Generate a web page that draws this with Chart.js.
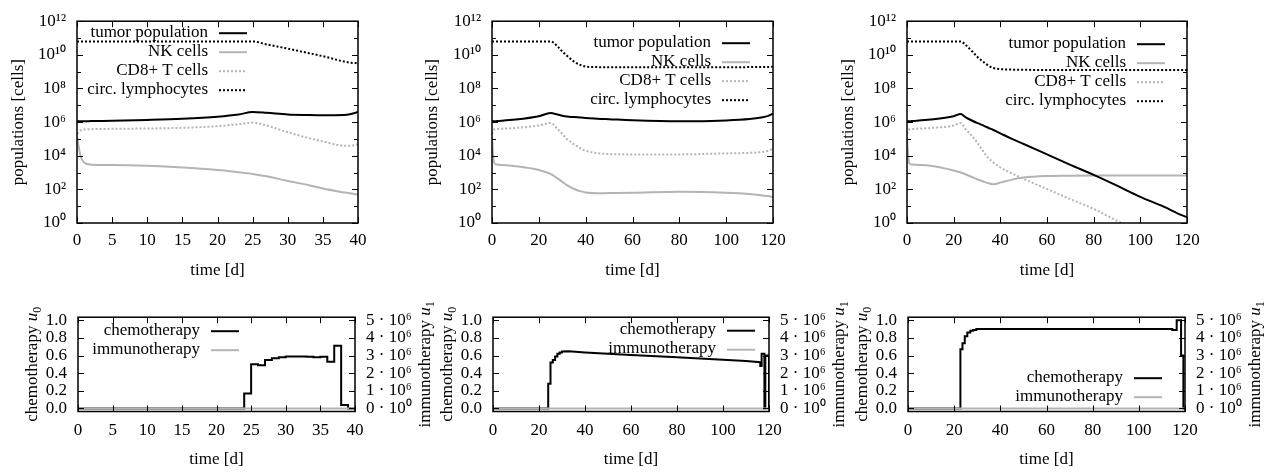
<!DOCTYPE html>
<html>
<head>
<meta charset="utf-8">
<script src="https://cdn.jsdelivr.net/npm/chart.js@4.4.1/dist/chart.umd.min.js"></script>
<style>
  body { margin: 0; background: #fff; }
  #wrap { position: relative; width: 1268px; height: 473px; overflow: hidden; }
  #wrap canvas { position: absolute; }
</style>
</head>
<body>
<div id="wrap"></div>
<script>
// --- populations, values are log10(cells) ---
// run 1 (40 d)
const daysA = [0, 0.5, 1, 2, 5, 10, 15, 20, 23, 25, 27, 30, 33, 35, 38, 39, 40];
const tumorA = [6.05, 6.05, 6.05, 6.06, 6.08, 6.13, 6.2, 6.32, 6.45, 6.6, 6.55, 6.45, 6.42, 6.41, 6.42, 6.48, 6.6];
const nkA = [5.1, 4.0, 3.6, 3.47, 3.45, 3.4, 3.3, 3.15, 3.02, 2.92, 2.78, 2.5, 2.25, 2.05, 1.82, 1.75, 1.7];
const cd8A = [5.3, 5.5, 5.56, 5.58, 5.6, 5.62, 5.66, 5.76, 5.88, 5.97, 5.8, 5.4, 5.05, 4.85, 4.6, 4.6, 4.68];
const circA = [10.8, 10.8, 10.8, 10.8, 10.8, 10.8, 10.8, 10.8, 10.8, 10.8, 10.62, 10.37, 10.1, 9.92, 9.6, 9.53, 9.5];

// run 2 (120 d)
const daysB = [0, 0.5, 1, 2, 10, 20, 25, 28, 30, 32, 35, 38, 40, 45, 50, 60, 80, 100, 110, 115, 118, 120];
const tumorB = [6.05, 6.05, 6.05, 6.06, 6.15, 6.35, 6.54, 6.45, 6.38, 6.33, 6.3, 6.27, 6.25, 6.2, 6.17, 6.11, 6.05, 6.1, 6.18, 6.27, 6.37, 6.5];
const nkB = [5.1, 4.0, 3.55, 3.48, 3.38, 3.15, 2.92, 2.65, 2.45, 2.25, 2.02, 1.88, 1.82, 1.77, 1.78, 1.8, 1.86, 1.8, 1.72, 1.65, 1.6, 1.55];
const cd8B = [5.3, 5.5, 5.56, 5.58, 5.65, 5.8, 5.95, 5.6, 5.3, 5.0, 4.68, 4.42, 4.3, 4.15, 4.1, 4.08, 4.08, 4.14, 4.17, 4.22, 4.3, 4.42];
const circB = [10.8, 10.8, 10.8, 10.8, 10.8, 10.8, 10.8, 10.5, 10.2, 9.95, 9.6, 9.38, 9.3, 9.27, 9.26, 9.26, 9.26, 9.26, 9.27, 9.27, 9.28, 9.29];

// run 3 (120 d)
const daysC = [0, 0.5, 1, 2, 10, 20, 23, 25, 28, 30, 33, 35, 37, 40, 45, 50, 60, 70, 80, 90, 95, 100, 110, 118, 120];
const tumorC = [6.05, 6.05, 6.05, 6.06, 6.15, 6.35, 6.48, 6.3, 6.08, 5.95, 5.78, 5.65, 5.53, 5.33, 5.0, 4.7, 4.08, 3.46, 2.86, 2.22, 1.88, 1.55, 0.97, 0.45, 0.35];
const nkC = [5.1, 4.0, 3.55, 3.48, 3.4, 3.12, 3.0, 2.9, 2.72, 2.6, 2.45, 2.36, 2.31, 2.4, 2.58, 2.7, 2.79, 2.81, 2.82, 2.82, 2.82, 2.82, 2.82, 2.82, 2.82];
const cd8C = [5.3, 5.5, 5.56, 5.58, 5.65, 5.8, 5.95, 5.6, 5.15, 4.8, 4.2, 3.85, 3.6, 3.3, 2.95, 2.62, 2.02, 1.42, 0.84, 0.13, -0.19, -0.5, -1.1, -1.6, -1.72];
const circC = [10.8, 10.8, 10.8, 10.8, 10.8, 10.8, 10.8, 10.6, 10.2, 9.9, 9.55, 9.35, 9.22, 9.15, 9.12, 9.11, 9.1, 9.1, 9.1, 9.1, 9.1, 9.1, 9.1, 9.1, 9.1];

// --- controls (chemo u0 is piecewise constant, corners listed twice) ---
const chemoDaysA = [0, 24, 24, 25, 25, 26, 26, 27, 27, 28, 28, 29, 29, 30, 30, 33, 33, 34, 34, 35, 35, 36, 36, 37, 37, 38, 38, 39, 39, 40];
const chemoA = [0, 0, 0.17, 0.17, 0.5, 0.5, 0.49, 0.49, 0.55, 0.55, 0.57, 0.57, 0.58, 0.58, 0.59, 0.59, 0.585, 0.585, 0.58, 0.58, 0.585, 0.585, 0.53, 0.53, 0.71, 0.71, 0.04, 0.04, 0, 0];
const chemoDaysB = [0, 24, 24, 25, 25, 26, 26, 27, 27, 28, 28, 29, 29, 30, 30, 33, 40, 60, 80, 100, 110, 116.2, 116.2, 116.8, 116.8, 118, 118, 118.4, 118.4, 120, 120];
const chemoB = [0, 0, 0.28, 0.28, 0.52, 0.52, 0.55, 0.55, 0.59, 0.59, 0.62, 0.62, 0.635, 0.635, 0.645, 0.648, 0.635, 0.607, 0.58, 0.553, 0.537, 0.525, 0.48, 0.48, 0.62, 0.62, 0, 0, 0.6, 0.6, 0];
const chemoDaysC = [0, 22.7, 22.7, 23.6, 23.6, 24.6, 24.6, 25.7, 25.7, 27, 27, 28.2, 28.2, 29.6, 29.6, 114.5, 114.5, 116.4, 116.4, 118.3, 118.3, 119.3, 119.3, 120];
const chemoC = [0, 0, 0.67, 0.67, 0.74, 0.74, 0.82, 0.82, 0.86, 0.86, 0.88, 0.88, 0.89, 0.89, 0.9, 0.9, 0.89, 0.89, 1.0, 1.0, 0.6, 0.6, 0, 0];
const immunoDaysA = [0, 40];
const immunoDaysBC = [0, 120];
const immunoU1 = [0, 0];

// tick values
const popExps = [0, 1, 2, 3, 4, 5, 6, 7, 8, 9, 10, 11, 12];
const chemoTicks = [0, 0.2, 0.4, 0.6, 0.8, 1.0];
const immunoTicks = [0, 1e6, 2e6, 3e6, 4e6, 5e6];

const FONT = "'Liberation Serif', 'Times New Roman', serif";
const GRAY = '#b4b4b4';
Chart.defaults.font.family = FONT;
Chart.defaults.font.size = 17;
Chart.defaults.color = '#000';

const SUP = '⁰¹²³⁴⁵⁶⁷⁸⁹';
const sup = n => String(n).split('').map(c => SUP[+c]).join('');

function seg(ctx, x1, y1, x2, y2) {
    ctx.beginPath();
    ctx.moveTo(x1, y1);
    ctx.lineTo(x2, y2);
    ctx.stroke();
}

// gnuplot style frame with inward ticks (mirrored)
const gnuFrame = {
    id: 'gnuFrame',
    afterDatasetsDraw(chart) {
        const { ctx, chartArea: a, scales } = chart;
        ctx.save();
        ctx.strokeStyle = '#000';
        ctx.lineWidth = 1;
        scales.x.ticks.forEach((t) => {
            const px = Math.round(scales.x.getPixelForValue(t.value)) + 0.5;
            seg(ctx, px, a.bottom, px, a.bottom - 6);
            seg(ctx, px, a.top, px, a.top + 6);
        });
        const right = scales.y1 || scales.y;
        scales.y.ticks.forEach((t) => {
            const py = Math.round(scales.y.getPixelForValue(t.value)) + 0.5;
            const len = t.minor ? 4 : 6;
            seg(ctx, a.left, py, a.left + len, py);
        });
        right.ticks.forEach((t) => {
            const py = Math.round(right.getPixelForValue(t.value)) + 0.5;
            const len = t.minor ? 4 : 6;
            seg(ctx, a.right, py, a.right - len, py);
        });
        ctx.lineWidth = 1.5;
        ctx.strokeRect(a.left, a.top, a.right - a.left, a.bottom - a.top);
        ctx.restore();
    },
};

// key: text right aligned, sample line after it
const gnuKey = {
    id: 'gnuKey',
    afterDraw(chart, args, opts) {
        const { ctx, chartArea: a } = chart;
        const tx = (opts.side === 'left' ? a.left : a.right) + opts.dx;
        ctx.save();
        ctx.font = '17px ' + FONT;
        ctx.textAlign = 'right';
        ctx.textBaseline = 'middle';
        chart.data.datasets.forEach((ds, i) => {
            const y = a.top + opts.dy + i * opts.row;
            ctx.fillStyle = '#000';
            ctx.fillText(ds.label, tx, y);
            ctx.strokeStyle = ds.borderColor;
            ctx.lineWidth = ds.borderWidth;
            ctx.setLineDash(ds.borderDash || []);
            seg(ctx, tx + 11, y + 1, tx + 39, y + 1);
        });
        ctx.restore();
    },
};

// rotated titles with italic u and subscript (bottom row)
function richVertical(ctx, parts, cx, cy) {
    ctx.save();
    ctx.translate(cx, cy);
    ctx.rotate(-Math.PI / 2);
    ctx.textBaseline = 'middle';
    ctx.textAlign = 'left';
    ctx.fillStyle = '#000';
    let w = 0;
    parts.forEach((p) => {
        ctx.font = p.font;
        w += ctx.measureText(p.t).width;
    });
    let x = -w / 2;
    parts.forEach((p) => {
        ctx.font = p.font;
        ctx.fillText(p.t, x, p.dy || 0);
        x += ctx.measureText(p.t).width;
    });
    ctx.restore();
}

const doseTitles = {
    id: 'doseTitles',
    afterDraw(chart) {
        const { ctx, chartArea: a } = chart;
        const cy = (a.top + a.bottom) / 2;
        const base = '17px ' + FONT;
        const ital = 'italic 17px ' + FONT;
        const sub = '12px ' + FONT;
        richVertical(ctx, [
            { t: 'chemotherapy ', font: base },
            { t: 'u', font: ital },
            { t: '0', font: sub, dy: 5 },
        ], a.left - 45, cy);
        richVertical(ctx, [
            { t: 'immunotherapy ', font: base },
            { t: 'u', font: ital },
            { t: '1', font: sub, dy: 5 },
        ], a.right + 71, cy);
    },
};

function makeCanvas(box) {
    const c = document.createElement('canvas');
    c.width = box.w;
    c.height = box.h;
    c.style.left = box.x + 'px';
    c.style.top = box.y + 'px';
    document.getElementById('wrap').appendChild(c);
    return c;
}

function xAxis(box, plot, xMax, xStep, tickPad, titlePad) {
    return {
        type: 'linear',
        min: 0,
        max: xMax,
        grid: { display: false, drawTicks: false },
        border: { display: false },
        ticks: { stepSize: xStep, padding: tickPad, autoSkip: false, maxRotation: 0 },
        title: { display: true, text: 'time [d]', padding: { top: 0, bottom: titlePad } },
        afterFit: (s) => { s.height = box.y + box.h - plot.b; },
    };
}

function popChart(box, plot, days, series, xMax, xStep, key) {
    const pts = (ex) => days.map((d, i) => ({ x: d, y: 10 ** ex[i] }));
    new Chart(makeCanvas(box), {
        type: 'line',
        data: {
            datasets: [
                { label: 'tumor population', data: pts(series[0]), borderColor: '#000', borderWidth: 2 },
                { label: 'NK cells', data: pts(series[1]), borderColor: GRAY, borderWidth: 2 },
                { label: 'CD8+ T cells', data: pts(series[2]), borderColor: GRAY, borderWidth: 2, borderDash: [2, 2] },
                { label: 'circ. lymphocytes', data: pts(series[3]), borderColor: '#000', borderWidth: 2, borderDash: [2, 2] },
            ],
        },
        options: {
            responsive: false,
            animation: false,
            devicePixelRatio: 1,
            layout: { padding: { top: plot.t - box.y, right: box.x + box.w - plot.r, left: 0, bottom: 0 } },
            elements: { point: { radius: 0 }, line: { cubicInterpolationMode: 'monotone' } },
            plugins: { legend: { display: false }, tooltip: { enabled: false }, gnuKey: key },
            scales: {
                x: xAxis(box, plot, xMax, xStep, 7.5, 10.8),
                y: {
                    type: 'logarithmic',
                    min: 1,
                    max: 1e12,
                    grid: { display: false, drawTicks: false },
                    border: { display: false },
                    afterBuildTicks: (s) => {
                        s.ticks = popExps.map((e) => ({ value: 10 ** e, minor: e % 2 === 1 }));
                    },
                    ticks: {
                        autoSkip: false,
                        padding: 11,
                        callback: (v) => {
                            const e = Math.round(Math.log10(v));
                            return e % 2 ? '' : '10' + sup(e);
                        },
                    },
                    title: { display: true, text: 'populations [cells]', padding: { top: 8, bottom: 0 } },
                    afterFit: (s) => { s.width = plot.l - box.x; },
                },
            },
        },
        plugins: [gnuFrame, gnuKey],
    });
}

function doseChart(box, plot, days, dose, iDays, xMax, xStep, key) {
    new Chart(makeCanvas(box), {
        type: 'line',
        data: {
            datasets: [
                { label: 'chemotherapy', data: days.map((d, i) => ({ x: d, y: dose[i] })), borderColor: '#000', borderWidth: 2, yAxisID: 'y', order: 1 },
                { label: 'immunotherapy', data: iDays.map((d, i) => ({ x: d, y: immunoU1[i] })), borderColor: GRAY, borderWidth: 2, yAxisID: 'y1', order: 0 },
            ],
        },
        options: {
            responsive: false,
            animation: false,
            devicePixelRatio: 1,
            layout: { padding: { top: plot.t - box.y, right: 0, left: 0, bottom: 0 } },
            elements: { point: { radius: 0 }, line: { tension: 0 } },
            plugins: { legend: { display: false }, tooltip: { enabled: false }, gnuKey: key },
            scales: {
                x: xAxis(box, plot, xMax, xStep, 8.5, 2.8),
                y: {
                    min: -0.035,
                    max: 1.035,
                    grid: { display: false, drawTicks: false },
                    border: { display: false },
                    afterBuildTicks: (s) => { s.ticks = chemoTicks.map((v) => ({ value: v })); },
                    ticks: { autoSkip: false, padding: 11, callback: (v) => v.toFixed(1) },
                    afterFit: (s) => { s.width = plot.l - box.x; },
                },
                y1: {
                    position: 'right',
                    min: -0.175e6,
                    max: 5.175e6,
                    grid: { display: false, drawTicks: false },
                    border: { display: false },
                    afterBuildTicks: (s) => { s.ticks = immunoTicks.map((v) => ({ value: v })); },
                    ticks: {
                        autoSkip: false,
                        padding: 11,
                        callback: (v) => (v === 0 ? '0 · 10⁰' : Math.round(v / 1e6) + ' · 10⁶'),
                    },
                    afterFit: (s) => { s.width = box.x + box.w - plot.r; },
                },
            },
        },
        plugins: [gnuFrame, gnuKey, doseTitles],
    });
}

popChart({ x: 0, y: 0, w: 414, h: 292 }, { l: 77, t: 19, r: 358, b: 223 },
    daysA, [tumorA, nkA, cd8A, circA], 40, 5, { side: 'left', dx: 131, dy: 11, row: 19 });
popChart({ x: 414, y: 0, w: 416, h: 292 }, { l: 492, t: 19, r: 773, b: 223 },
    daysB, [tumorB, nkB, cd8B, circB], 120, 20, { side: 'right', dx: -62, dy: 21, row: 19 });
popChart({ x: 830, y: 0, w: 438, h: 292 }, { l: 907, t: 19, r: 1187, b: 223 },
    daysC, [tumorC, nkC, cd8C, circC], 120, 20, { side: 'right', dx: -61, dy: 22, row: 19 });

doseChart({ x: 0, y: 296, w: 440, h: 177 }, { l: 78, t: 310, r: 355, b: 411.5 },
    chemoDaysA, chemoA, immunoDaysA, 40, 5, { side: 'left', dx: 122, dy: 13, row: 19 });
doseChart({ x: 414, y: 296, w: 440, h: 177 }, { l: 493, t: 310, r: 769, b: 411.5 },
    chemoDaysB, chemoB, immunoDaysBC, 120, 20, { side: 'right', dx: -53, dy: 12.5, row: 19 });
doseChart({ x: 830, y: 296, w: 438, h: 177 }, { l: 908, t: 310, r: 1185, b: 411.5 },
    chemoDaysC, chemoC, immunoDaysBC, 120, 20, { side: 'right', dx: -62, dy: 60, row: 19 });
</script>
</body>
</html>
